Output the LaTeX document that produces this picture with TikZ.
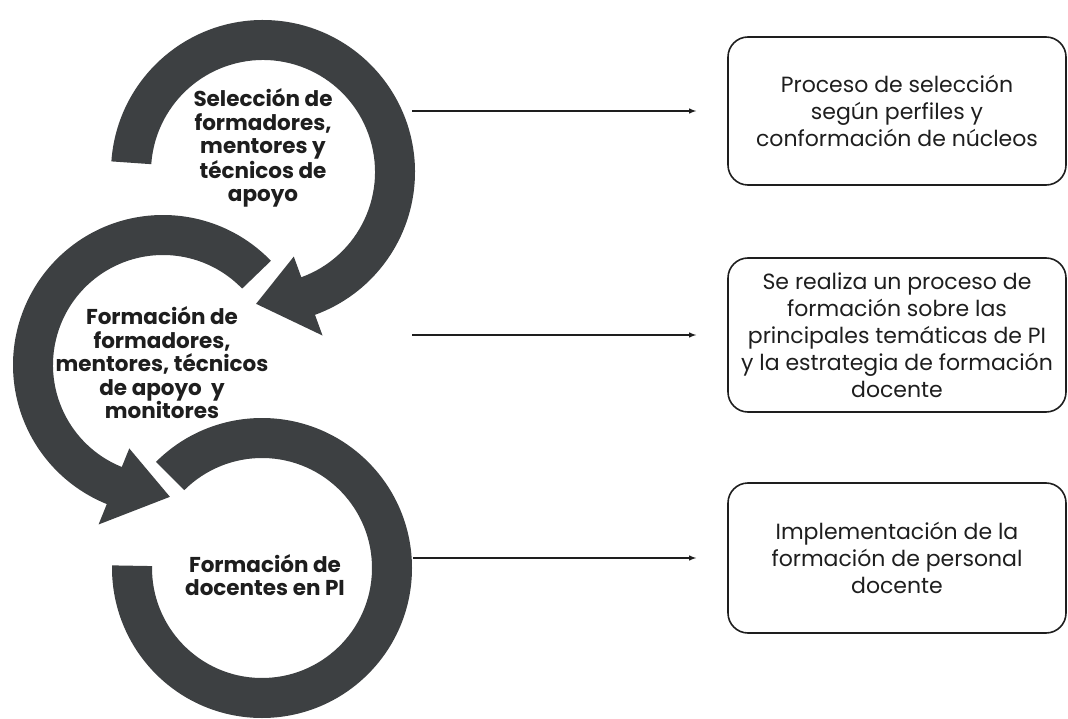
\documentclass[tikz,border=0pt]{standalone}
\usepackage{xcolor}
\usepackage{fontspec}
\setmainfont{Poppins}
\usepackage{tikz}
\usetikzlibrary{calc}
\usetikzlibrary{arrows}
\usetikzlibrary{positioning}

\definecolor{anillo}{HTML}{3D4042}
\definecolor{tinta}{HTML}{1E1E1E}

\begin{document}
\begin{tikzpicture}[x=1pt, y=-1pt,
  etapa/.style={align=center, font=\fontsize{21.5}{23.5}\selectfont\bfseries, text=tinta},
  caja/.style={rectangle, rounded corners=20pt, draw=tinta, line width=1.6pt, minimum width=338pt, align=center, font=\fontsize{22}{27}\selectfont, text=tinta},
  flecha/.style={-latex, line width=1.4pt, draw=tinta, shorten >=31pt}]
\useasboundingbox (0,0) rectangle (1068,719);

% anillos
\coordinate (c1) at (263,172);
\coordinate (c2) at (163,365);
\coordinate (c3) at (262,568);
\fill [anillo] ($(c1)+(184:152)$) arc [start angle=184, end angle=430, radius=152]
  -- ($(c1)+(70:174)$) -- ($(c1)+(93:132)$) -- ($(c1)+(70:90)$) -- ($(c1)+(70:112)$)
  arc [start angle=430, end angle=184, radius=112] -- cycle;
\fill [anillo] ($(c2)+(316:150)$) arc [start angle=316, end angle=112, radius=150]
  -- ($(c2)+(112:172)$) -- ($(c2)+(87:132)$) -- ($(c2)+(112:90)$) -- ($(c2)+(112:110)$)
  arc [start angle=112, end angle=316, radius=110] -- cycle;
\fill [anillo] ($(c3)+(225:150)$) arc [start angle=225, end angle=541, radius=150]
  -- ($(c3)+(541:110)$) arc [start angle=541, end angle=225, radius=110] -- cycle;

% etapas
\node [etapa] (e1) at (263,148) {Selección de\\formadores,\\mentores y\\técnicos de\\apoyo};
\node [etapa] (e2) at (162,363) {Formación de\\formadores,\\mentores, técnicos\\de apoyo\ \ y\\monitores};
\node [etapa] (e3) at (265,575) {Formación de\\docentes en PI};

% cajas
\node [caja, minimum height=148pt] (b1) at (897,111) {Proceso de selección\\según perfiles y\\conformación de núcleos};
\node [caja, minimum height=154pt] (b2) at (897,335) {Se realiza un proceso de\\formación sobre las\\principales temáticas de PI\\y la estrategia de formación\\docente};
\node [caja, minimum height=150pt] (b3) at (897,558) {Implementación de la\\formación de personal\\docente};

\coordinate (s1) at (412,111);
\coordinate (s2) at (412,335);
\coordinate (s3) at (413,558);
\draw [flecha] (s1) -- (s1 -| b1.west);
\draw [flecha] (s2) -- (s2 -| b2.west);
\draw [flecha] (s3) -- (s3 -| b3.west);
\end{tikzpicture}
\end{document}
